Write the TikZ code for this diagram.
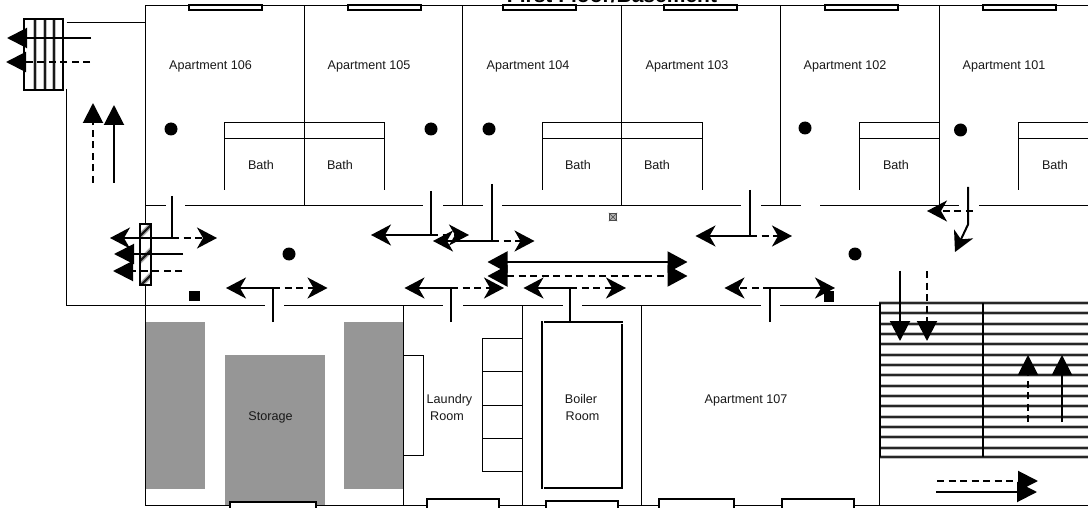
\documentclass[tikz,border=0pt]{standalone}
\usepackage{fontspec}
\setmainfont{Liberation Sans}
\usetikzlibrary{arrows.meta}
\tikzstyle{wall} = [
  line width=1pt,
]
\tikzstyle{frame} = [
  draw,
  fill=white,
  line width=2pt,
]
\tikzstyle{solidflow} = [
  line width=2pt,
]
\tikzstyle{dashflow} = [
  line width=2pt,
  dash pattern=on 7pt off 4.5pt,
]
\tikzstyle{openhead} = [
  -{Stealth[length=20pt,width=21pt,inset=6pt]},
]
\tikzstyle{fullhead} = [
  -{Triangle[length=20pt,width=20pt]},
]
\tikzstyle{fullboth} = [
  {Triangle[length=20pt,width=21pt]}-{Triangle[length=20pt,width=21pt]},
]
\tikzstyle{room} = [
  anchor=base,
  inner sep=0pt,
  font=\fontsize{12.6}{15}\selectfont,
  text=black!90,
]
\tikzstyle{heading} = [
  anchor=base,
  inner sep=0pt,
  font=\fontsize{21}{25}\selectfont\bfseries,
]
\tikzstyle{lamp} = [
  circle,
  fill,
  inner sep=0pt,
  minimum size=13pt,
]
\tikzstyle{mark square} = [
  rectangle,
  fill,
  inner sep=0pt,
  minimum size=10.5pt,
]
\definecolor{storagegray}{HTML}{969696}

\begin{document}
\begin{tikzpicture}[
    x=1pt,
    y=-1pt,
  ]
  \useasboundingbox (0,0) rectangle (1088,508);
  \fill[white] (0,0) rectangle (1088,508);

  % storage blocks
  \fill[storagegray] (145,322) rectangle (205,489);
  \fill[storagegray] (225,355) rectangle (325,506);
  \fill[storagegray] (344,322) rectangle (403,489);

  % stair hatching
  \foreach \y in {303,313,324,334,344,355,365,375,386,396,406,417,427,437,448,457}{
    \draw[black!25,line width=4pt] (879,\y) -- (1088,\y);
    \draw[black!85,line width=2pt] (879,\y) -- (1088,\y);
  }
  \draw[line width=2pt] (880,303) -- (880,457);
  \draw[line width=2pt] (983,303) -- (983,457);

  % outer walls
  \draw[wall] (66.5,22.5) -- (145.5,22.5);
  \draw[wall] (66.5,89) -- (66.5,305.5);
  \draw[wall] (145.5,5.5) -- (1088,5.5);
  \draw[wall] (145.5,5.5) -- (145.5,505.5) -- (1088,505.5);
  \foreach \x in {304.5,462.5,621.5,780.5,939.5}{
    \draw[wall] (\x,5.5) -- (\x,205.5);
  }
  \foreach \x in {403.5,522.5,641.5,879.5}{
    \draw[wall] (\x,305.5) -- (\x,505.5);
  }

  % corridor walls
  \foreach \a/\b in {145/166,185/423,443/483,502/741,761/801,820/959,979/1088}{
    \draw[wall] (\a,205.5) -- (\b,205.5);
  }
  \foreach \a/\b in {66/265,284/443,463/563,582/761,780/879}{
    \draw[wall] (\a,305.5) -- (\b,305.5);
  }

  % baths
  \foreach \a/\b in {224.5/384.5,542.5/702.5,859.5/939.5,1018.5/1088}{
    \draw[wall] (\a,122.5) -- (\b,122.5);
    \draw[wall] (\a,138.5) -- (\b,138.5);
  }
  \foreach \x in {224.5,384.5,542.5,702.5,859.5,1018.5}{
    \draw[wall] (\x,122.5) -- (\x,190);
  }

  % laundry fittings
  \draw[wall] (403.5,355.5) rectangle (423.5,455.5);
  \draw[wall] (482.5,338.5) rectangle (522.5,471.5);
  \foreach \y in {371.5,405.5,438.5}{
    \draw[wall] (482.5,\y) -- (522.5,\y);
  }

  % boiler
  \draw[line width=2pt] (542,321) -- (542,489);
  \draw[line width=2pt] (622,324) -- (622,489);
  \draw[line width=2pt] (544,322) -- (623,322);
  \draw[line width=2pt] (544,488) -- (623,488);

  % windows
  \foreach \a in {189,348,503,664,825,983}{
    \draw[frame] (\a,5) rectangle +(73,5);
  }
  \foreach \a/\b/\t in {230/316/502,427/499/499,546/618/501,659/734/499,782/854/499}{
    \draw[frame] (\a,\t) rectangle (\b,512);
  }

  % vents
  \draw[frame] (24,19) rectangle (63,90);
  \foreach \x in {35,45,54}{
    \draw[black!25,line width=4pt] (\x,19) -- (\x,90);
    \draw[black!90,line width=2pt] (\x,19) -- (\x,90);
  }
  \draw[frame,fill=none] (24,19) rectangle (63,90);
  \draw[frame] (140,224) rectangle (151,285);
  \begin{scope}
    \clip (140,224) rectangle (151,285);
    \foreach \y in {237,262,287}{
      \draw[black!30,line width=5pt] (136,\y+3) -- (154,\y-15);
      \draw[black!90,line width=2.2pt] (136,\y+3) -- (154,\y-15);
    }
  \end{scope}
  \draw[frame,fill=none] (140,224) rectangle (151,285);

  % lamps and marks
  \foreach \n/\x/\y in {a/171/129,b/431/129,c/489/129,d/805/128,e/960.5/130,f/289/254,g/855/254}{
    \node[lamp] (lamp\n) at (\x,\y) {};
  }
  \node[mark square] (panelw) at (194.5,296) {};
  \node[mark square] (panele) at (829,296.5) {};
  \node[
    draw=black!70,
    fill=black!30,
    rectangle,
    inner sep=0pt,
    line width=0.8pt,
    minimum size=7.5pt,
  ] (sensor) at (613,217) {};
  \draw[black!70,line width=0.5pt] (sensor.south west) -- (sensor.north east);
  \draw[black!70,line width=0.5pt] (sensor.north west) -- (sensor.south east);

  % flow at the vent
  \draw[solidflow,fullhead] (91,38) -- (7,38);
  \draw[dashflow,fullhead] (90,62) -- (6,62);
  \draw[dashflow,fullhead] (93,183) -- (93,103);
  \draw[solidflow,fullhead] (114,183) -- (114,105);
  \draw[solidflow,fullhead] (183,254) -- (114,254);
  \draw[dashflow,fullhead] (182,271) -- (113,271);

  % branches off the corridor
  \foreach \sx/\sa/\sb/\l/\r in {
    172/196/238/110/217,
    273/322/288/226/327.5,
    431/191/235/371/469,
    492/184/241/433/534.5,
    451/322/288/404.5/504,
    570/321/288/523.5/626,
    750/190/236/695.5/792}{
    \draw[solidflow] (\sx,\sa) -- (\sx,\sb);
    \draw[solidflow,openhead] (\sx,\sb) -- (\l,\sb);
    \draw[dashflow,openhead] (\sx,\sb) -- (\r,\sb);
  }
  \draw[solidflow] (770,322) -- (770,288);
  \draw[dashflow,openhead] (770,288) -- (724.5,288);
  \draw[solidflow,openhead] (770,288) -- (835,288);
  \draw[solidflow,openhead] (968,187) -- (968,224.5) -- (955,252);
  \draw[dashflow,openhead] (972.5,211) -- (927,211);

  % main runs
  \draw[solidflow,fullboth] (487.5,262) -- (687.5,262);
  \draw[dashflow,fullboth] (487.5,276) -- (687.5,276);
  \draw[solidflow,fullhead] (900,270.5) -- (900,341);
  \draw[dashflow,fullhead] (927,271) -- (927,341);
  \draw[dashflow,fullhead] (1028,422) -- (1028,355);
  \draw[solidflow,fullhead] (1062,422) -- (1062,355);
  \draw[dashflow,fullhead] (937,481) -- (1038,481);
  \draw[solidflow,fullhead] (936,492) -- (1037,492);

  % labels
  \node[heading] (title) at (612,3) {First Floor/Basement};
  \foreach \n/\x in {106/210.5,105/369,104/528,103/687,102/845,101/1004}{
    \node[room] (apt\n) at (\x,70) {Apartment \n};
  }
  \foreach \n/\x in {a/261,b/340,c/578,d/657,e/896,f/1055}{
    \node[room] (bath\n) at (\x,170) {Bath};
  }
  \node[room] (apt107) at (746,403) {Apartment 107};
  \node[room] (storage) at (270.5,420) {Storage};
  \node[room] (laundry) at (449.5,403) {Laundry};
  \node[room] (laundryroom) at (447,420) {Room};
  \node[room] (boiler) at (581,403) {Boiler};
  \node[room] (boilerroom) at (582.5,420) {Room};
\end{tikzpicture}
\end{document}
